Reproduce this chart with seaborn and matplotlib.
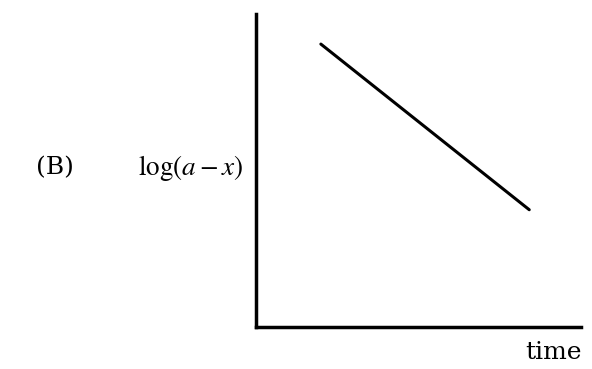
import matplotlib
matplotlib.use("Agg")
import matplotlib.pyplot as plt
import seaborn as sns
import pandas as pd

# values (axes are unitless, 0..1)
time = [0.20, 0.84]
log_a_minus_x = [0.905, 0.375]

panel_label = "(B)"
y_label = r"$\log(a - x)$"
x_label = "time"

sns.set_theme(style="white")
plt.rcParams["font.family"] = ["DejaVu Serif"]
plt.rcParams["mathtext.fontset"] = "stix"

df = pd.DataFrame({"time": time, "log": log_a_minus_x})

fig = plt.figure(figsize=(5.92, 3.69), dpi=100)
ax = fig.add_axes([0.432, 0.114, 0.55, 0.847])

sns.lineplot(data=df, x="time", y="log", color="black", linewidth=2.2, ax=ax)

ax.set_xlim(0, 1)
ax.set_ylim(0, 1)
ax.set_xticks([])
ax.set_yticks([])
ax.set_xlabel("")
ax.set_ylabel("")
for s in ["top", "right"]:
    ax.spines[s].set_visible(False)
for s in ["left", "bottom"]:
    ax.spines[s].set_color("black")
    ax.spines[s].set_linewidth(2.5)

# labels placed outside the axes like the scanned figure
fig.text(0.935, 0.045, x_label, fontsize=18, ha="center", va="center", color="black")
fig.text(0.322, 0.545, y_label, fontsize=19.5, ha="center", va="center", color="black")
fig.text(0.093, 0.545, panel_label, fontsize=18, ha="center", va="center", color="black")

fig.savefig("out.png", dpi=100)
